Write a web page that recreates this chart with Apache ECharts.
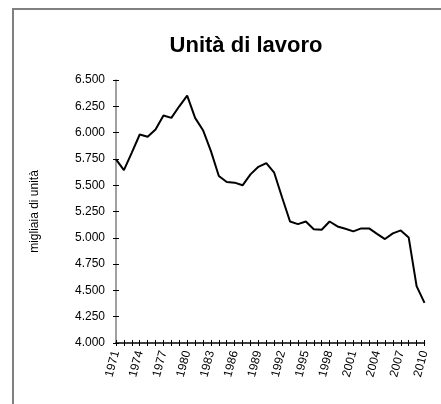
<!DOCTYPE html>
<html>
<head>
<meta charset="utf-8">
<script src="https://cdn.jsdelivr.net/npm/echarts@6/dist/echarts.min.js"></script>
<style>
  html, body { margin: 0; padding: 0; background: #fff; }
  #chart { width: 441px; height: 404px; }
</style>
</head>
<body>
<div id="chart"></div>
<script>
// anni
const years = [];
for (let y = 1971; y <= 2010; y++) years.push(String(y));

// unità di lavoro (migliaia)
const unita = [
  5745, 5644, 5810, 5982, 5960, 6029, 6162, 6140, 6250, 6351,
  6140, 6023, 5824, 5587, 5530, 5524, 5499, 5603, 5675, 5710,
  5619, 5383, 5155, 5130, 5155, 5082, 5076, 5155, 5108, 5086,
  5061, 5089, 5089, 5038, 4988, 5042, 5070, 5004, 4540, 4382
];

const fontFamily = '"Liberation Sans", Arial, sans-serif';

const mychart = echarts.init(document.getElementById('chart'));

// 4000 -> "4.000"
const fmt = (v) => {
  const s = String(Math.round(v));
  return s.slice(0, s.length - 3) + '.' + s.slice(-3);
};

const option = {
  animation: false,
  textStyle: { fontFamily },
  title: {
    text: 'Unità di lavoro',
    left: 241,
    top: 30,
    textAlign: 'center',
    textStyle: { fontSize: 22, fontWeight: 'bold', color: '#000', fontFamily },
  },
  graphic: [
    {
      type: 'rect',
      shape: { x: 13, y: 9, width: 440, height: 410 },
      style: { fill: 'none', stroke: '#808080', lineWidth: 2 },
      silent: true,
    },
  ],
  grid: { left: 116, right: 16.5, top: 80, bottom: 61 },
  xAxis: [
    {
      type: 'category',
      data: years,
      boundaryGap: false,
      axisLine: { show: true, lineStyle: { color: '#000', width: 1.5 } },
      axisTick: { show: true, interval: 0, length: 3, lineStyle: { color: '#000' } },
      axisLabel: {
        interval: 2,
        rotate: 75,
        fontSize: 12,
        color: '#000',
        margin: 8,
        fontFamily,
      },
      splitLine: { show: false },
    },
    {
      type: 'category',
      data: years,
      boundaryGap: false,
      position: 'bottom',
      axisLine: { show: false },
      axisTick: { show: true, inside: true, interval: 0, length: 3, lineStyle: { color: '#000' } },
      axisLabel: { show: false },
      splitLine: { show: false },
    },
  ],
  yAxis: [
    {
      type: 'value',
      min: 4000,
      max: 6500,
      interval: 250,
      name: 'migliaia di unità',
      nameLocation: 'middle',
      nameGap: 75,
      nameTextStyle: { fontSize: 12, color: '#000', fontFamily },
      axisLine: { show: true, lineStyle: { color: '#808080', width: 1.5 } },
      axisTick: { show: true, length: 3, lineStyle: { color: '#000' } },
      axisLabel: { fontSize: 12, color: '#000', margin: 11, formatter: fmt, fontFamily },
      splitLine: { show: false },
    },
    {
      type: 'value',
      min: 4000,
      max: 6500,
      interval: 250,
      position: 'left',
      axisLine: { show: false },
      axisTick: { show: true, inside: true, length: 3, lineStyle: { color: '#000' } },
      axisLabel: { show: false },
      splitLine: { show: false },
    },
  ],
  series: [
    {
      name: 'Unità di lavoro',
      type: 'line',
      data: unita,
      symbol: 'none',
      lineStyle: { color: '#000', width: 2 },
      xAxisIndex: 0,
      yAxisIndex: 0,
    },
  ],
};

mychart.setOption(option);
</script>
</body>
</html>
